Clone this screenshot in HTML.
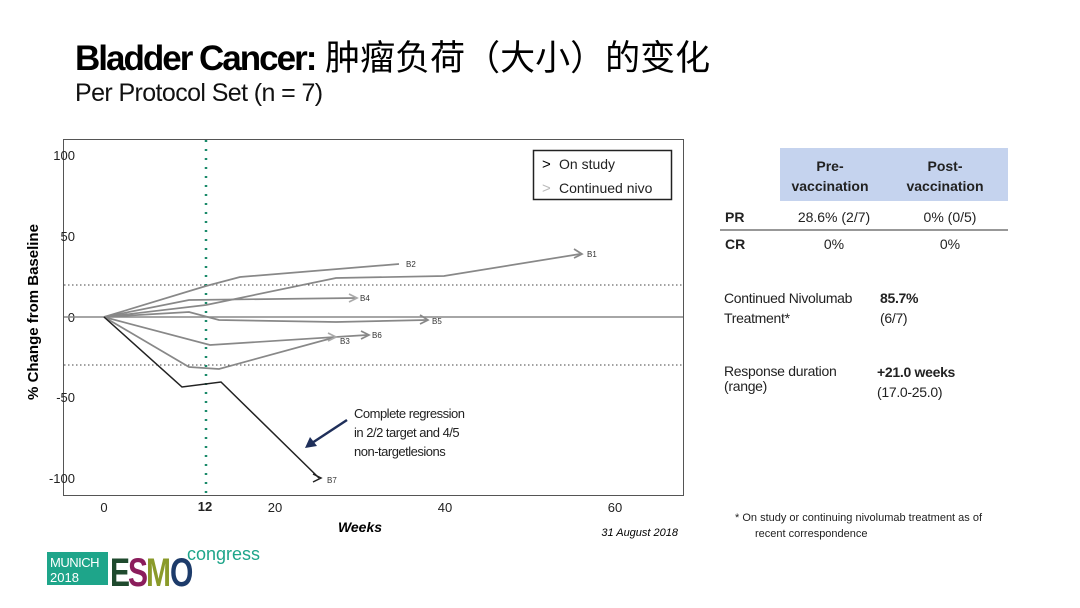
<!DOCTYPE html>
<html><head><meta charset="utf-8"><style>
body{margin:0;width:1080px;height:608px;background:#fff;overflow:hidden;font-family:"Liberation Sans","Noto Sans CJK SC",sans-serif;position:relative}
.a{position:absolute;white-space:nowrap}
</style></head><body>
<div class="a" style="left:75px;top:30px;font-size:35px;color:#000"><b style="letter-spacing:-2px">Bladder Cancer:</b> 肿瘤负荷（大小）的变化</div>
<div class="a" style="left:75px;top:79px;font-size:25px;color:#111;letter-spacing:-0.6px">Per Protocol Set (n = 7)</div>
<svg class="a" style="left:0;top:0" width="1080" height="608">
<g font-family="Liberation Sans, sans-serif">
<rect x="63.5" y="139.5" width="620" height="356" fill="none" stroke="#555" stroke-width="1"/>
<g font-size="13" fill="#222" text-anchor="end">
<text x="75" y="160">100</text><text x="75" y="241">50</text><text x="75" y="322">0</text><text x="75" y="402">-50</text><text x="75" y="483">-100</text>
</g>
<g font-size="13" fill="#222" text-anchor="middle">
<text x="104" y="512">0</text><text x="205" y="511" font-weight="bold">12</text><text x="275" y="512">20</text><text x="445" y="512">40</text><text x="615" y="512">60</text>
</g>
<text x="360" y="532" font-size="14" font-weight="bold" font-style="italic" text-anchor="middle">Weeks</text>
<text x="678" y="536" font-size="11" font-style="italic" text-anchor="end">31 August 2018</text>
<text transform="translate(38,312) rotate(-90)" font-size="15" font-weight="bold" text-anchor="middle">% Change from Baseline</text>
<line x1="64" y1="317" x2="683" y2="317" stroke="#888" stroke-width="1.5"/>
<line x1="64" y1="285" x2="683" y2="285" stroke="#444" stroke-dasharray="1.5,2.5"/>
<line x1="64" y1="365" x2="683" y2="365" stroke="#444" stroke-dasharray="1.5,2.5"/>
<line x1="206" y1="140" x2="206" y2="495" stroke="#1a8a6a" stroke-width="2.5" stroke-dasharray="2,7"/>
<g fill="none" stroke="#888" stroke-width="1.7">
<polyline points="104,317 206,305 336,278 444,276 580,254"/>
<polyline points="104,317 206,286 240,277 399,264"/>
<polyline points="104,317 189,300 356,298"/>
<polyline points="104,317 189,312 219,320 336,322 427,320"/>
<polyline points="104,317 210,345 367,335"/>
<polyline points="104,317 189,367 219,369 336,337"/>
<path d="M574,249 L582,254 L574,258 M420,315 L428,320 L420,324 M361,331 L369,335 L361,339"/>
<path d="M349,294 L357,298 L349,302 M328,333 L336,337 L328,341" stroke="#aaa"/>
</g>
<polyline points="104,317 182,387 221,382 319,478" fill="none" stroke="#222" stroke-width="1.5"/>
<path d="M313,474 L321,478 L313,482" fill="none" stroke="#222" stroke-width="1.5"/>
<g font-size="8" fill="#333">
<text x="587" y="257">B1</text><text x="406" y="267">B2</text><text x="360" y="301">B4</text><text x="432" y="324">B5</text><text x="372" y="338">B6</text><text x="340" y="344">B3</text><text x="327" y="483">B7</text>
</g>
<line x1="347" y1="420" x2="312" y2="443" stroke="#1f2f5a" stroke-width="2.5"/>
<path d="M305,448 L310,437 L317,446 Z" fill="#1f2f5a"/>
<g font-size="13" fill="#222" letter-spacing="-0.5">
<text x="354" y="418">Complete regression</text><text x="354" y="437">in 2/2 target and 4/5</text><text x="354" y="456">non-targetlesions</text>
</g>
<rect x="533.5" y="150.5" width="138" height="49" fill="#fff" stroke="#222" stroke-width="1.5"/>
<text x="542" y="169" font-size="15" fill="#000">&gt;</text><text x="559" y="169" font-size="14" fill="#222">On study</text>
<text x="542" y="193" font-size="15" fill="#bbb">&gt;</text><text x="559" y="193" font-size="14" fill="#222">Continued nivo</text>
<rect x="780" y="148" width="228" height="53" fill="#c5d3ee"/>
<g font-size="14" font-weight="bold" fill="#222" text-anchor="middle">
<text x="830" y="171">Pre-</text><text x="830" y="191">vaccination</text>
<text x="945" y="171">Post-</text><text x="945" y="191">vaccination</text>
</g>
<g font-size="14" fill="#222">
<text x="725" y="222" font-weight="bold">PR</text><text x="725" y="249" font-weight="bold">CR</text>
<text x="834" y="222" text-anchor="middle">28.6% (2/7)</text><text x="950" y="222" text-anchor="middle">0% (0/5)</text>
<text x="834" y="249" text-anchor="middle">0%</text><text x="950" y="249" text-anchor="middle">0%</text>
</g>
<line x1="720" y1="230" x2="1008" y2="230" stroke="#777" stroke-width="1.5"/>
<g font-size="14" fill="#222" letter-spacing="-0.3">
<text x="724" y="303">Continued Nivolumab</text><text x="724" y="323">Treatment*</text>
<text x="880" y="303" font-weight="bold">85.7%</text><text x="880" y="323">(6/7)</text>
<text x="724" y="376">Response duration</text><text x="724" y="391">(range)</text>
<text x="877" y="377" font-weight="bold">+21.0 weeks</text><text x="877" y="397">(17.0-25.0)</text>
</g>
<text x="735" y="521" font-size="11" fill="#222">* On study or continuing nivolumab treatment as of</text>
<text x="755" y="537" font-size="11" fill="#222">recent correspondence</text>
<rect x="47" y="552" width="61" height="33" fill="#1ea58a"/>
<text x="50" y="567" font-size="13" fill="#fff" letter-spacing="-0.5">MUNICH</text><text x="50" y="582" font-size="13" fill="#fff">2018</text>
<g font-size="40" font-weight="bold" letter-spacing="-3" transform="translate(110,586) scale(0.75,1)">
<text x="0" y="0" fill="#1f4a2e">E</text><text x="24" y="0" fill="#8b1d5c">S</text><text x="48" y="0" fill="#8a9a2a">M</text><text x="80" y="0" fill="#1d3b6a">O</text>
</g>
<text x="187" y="560" font-size="18" fill="#1ea58a">congress</text>
</g>
</svg>
</body></html>
